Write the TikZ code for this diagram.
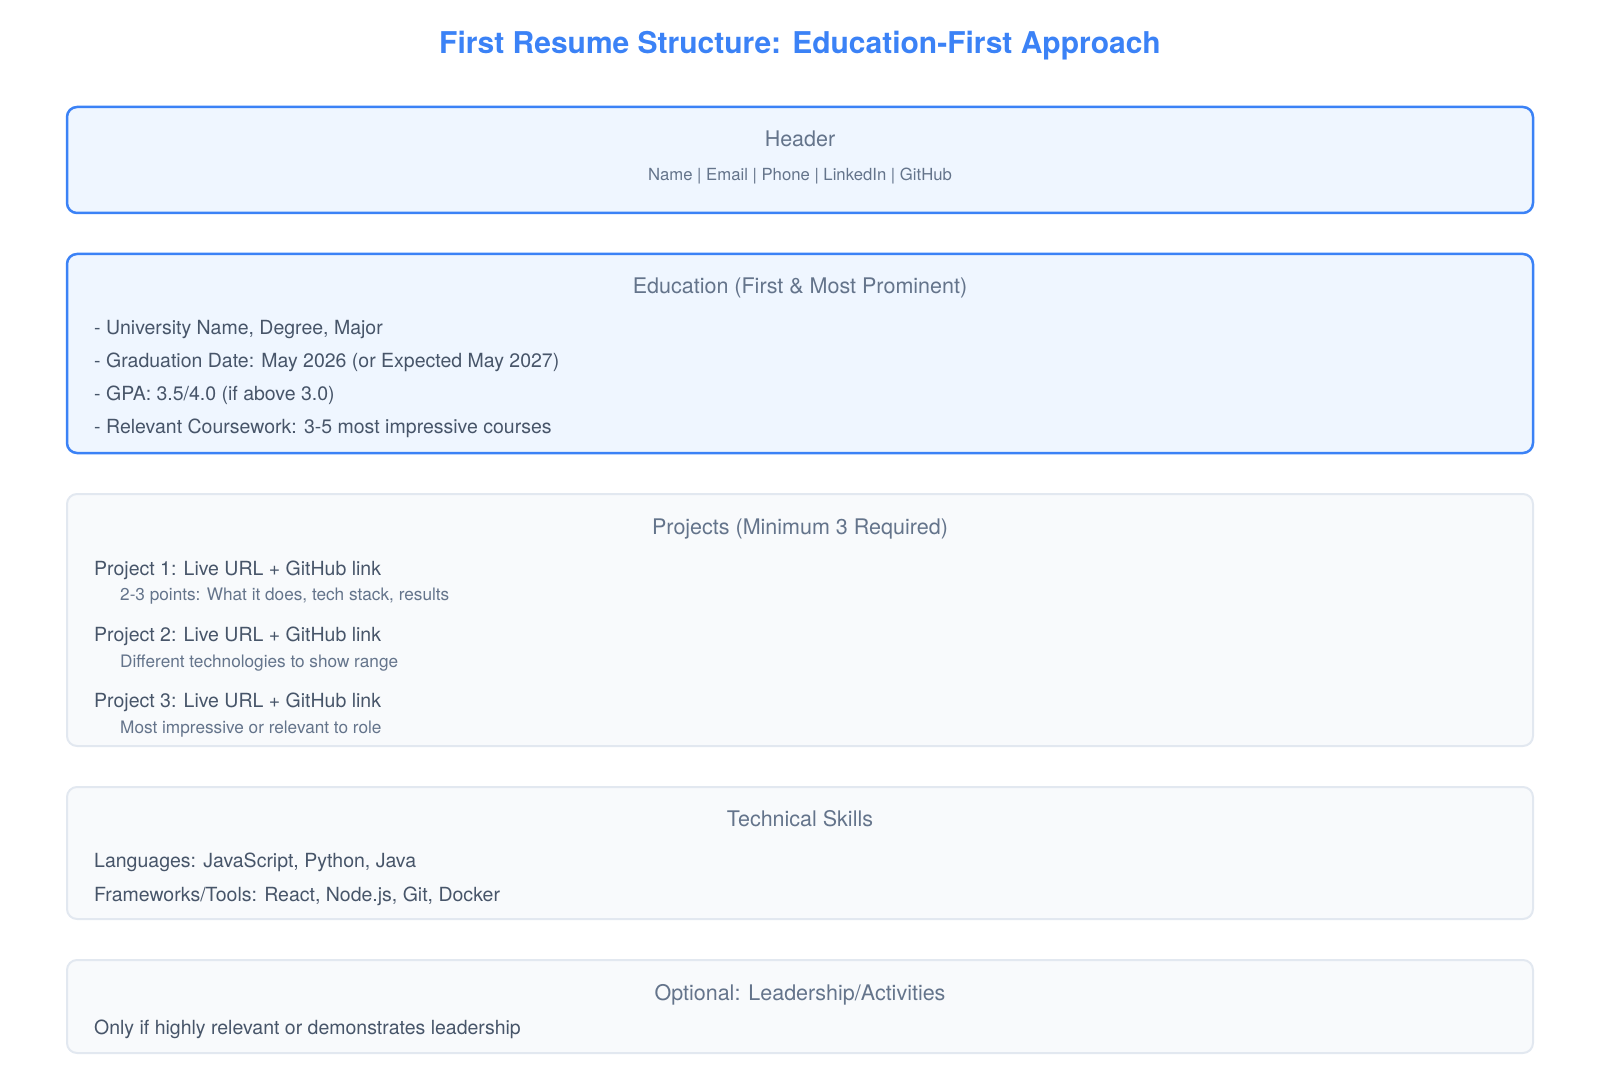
\documentclass[tikz,border=0pt]{standalone}
\usepackage{fontspec}
\setmainfont{TeX Gyre Heros}
\definecolor{titleblue}{HTML}{3B82F6}
\definecolor{keyfill}{HTML}{EFF6FF}
\definecolor{plainfill}{HTML}{F8FAFC}
\definecolor{plainline}{HTML}{E2E8F0}
\definecolor{headtext}{HTML}{64748B}
\definecolor{itemtext}{HTML}{475569}
\begin{document}
\begin{tikzpicture}[x=1pt, y=-1pt,
    keybox/.style = {draw=titleblue, line width=2.5pt, fill=keyfill, rounded corners=10pt, minimum width=1466pt, inner sep=0pt},
    plainbox/.style = {draw=plainline, line width=2pt, fill=plainfill, rounded corners=10pt, minimum width=1466pt, inner sep=0pt},
    head/.style = {anchor=base, inner sep=0pt, text=headtext, font=\fontsize{21.5}{25}\selectfont},
    item/.style = {anchor=base west, inner sep=0pt, text=itemtext, font=\fontsize{19.5}{23}\selectfont},
    note/.style = {anchor=base west, inner sep=0pt, text=headtext, font=\fontsize{17.2}{20}\selectfont}]
    \useasboundingbox (0,0) rectangle (1600,1067);
    \node[anchor=base, inner sep=0pt, text=titleblue, font=\fontsize{30}{36}\selectfont\bfseries] (title) at (800,54) {First Resume Structure: Education-First Approach};
    % boxes
    \node[keybox, minimum height=106pt] (header) at (800,160) {};
    \node[keybox, minimum height=199pt] (edu) at (800,353.5) {};
    \node[plainbox, minimum height=252pt] (proj) at (800,620) {};
    \node[plainbox, minimum height=132pt] (skills) at (800,853) {};
    \node[plainbox, minimum height=93pt] (extra) at (800,1006.5) {};
    % header
    \node[head] (h1) at (800,147) {Header};
    \node[anchor=base, inner sep=0pt, text=headtext, font=\fontsize{16.7}{20}\selectfont] (h2) at (800,181) {Name | Email | Phone | LinkedIn | GitHub};
    % education
    \node[head] (e0) at (800,294) {Education (First \& Most Prominent)};
    \node[item] (e1) at (94,334.5) {- University Name, Degree, Major};
    \node[item] (e2) at (94,367) {- Graduation Date: May 2026 (or Expected May 2027)};
    \node[item] (e3) at (94,400) {- GPA: 3.5/4.0 (if above 3.0)};
    \node[item] (e4) at (94,433.5) {- Relevant Coursework: 3-5 most impressive courses};
    % projects
    \node[head] (p0) at (800,534) {Projects (Minimum 3 Required)};
    \node[item] (p1) at (94,575) {Project 1: Live URL + GitHub link};
    \node[note] (p1n) at (120,600) {2-3 points: What it does, tech stack, results};
    \node[item] (p2) at (94,641) {Project 2: Live URL + GitHub link};
    \node[note] (p2n) at (120,667) {Different technologies to show range};
    \node[item] (p3) at (94,707.5) {Project 3: Live URL + GitHub link};
    \node[note] (p3n) at (120,733) {Most impressive or relevant to role};
    % skills
    \node[head] (s0) at (800,826.5) {Technical Skills};
    \node[item] (s1) at (94,867) {Languages: JavaScript, Python, Java};
    \node[item] (s2) at (94,901) {Frameworks/Tools: React, Node.js, Git, Docker};
    % optional
    \node[head] (o0) at (800,1000.5) {Optional: Leadership/Activities};
    \node[item] (o1) at (94,1034) {Only if highly relevant or demonstrates leadership};
\end{tikzpicture}
\end{document}
